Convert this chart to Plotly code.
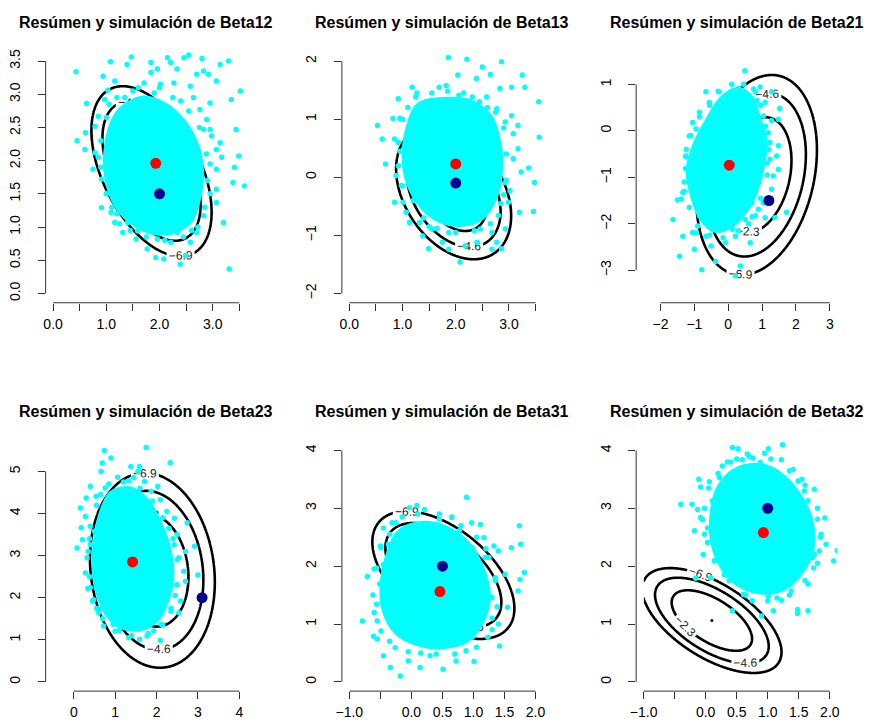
import numpy as np
import plotly.graph_objects as go

# ---------------- data ----------------
levels = [-6.9, -4.6, -2.3]

titles = ["Resúmen y simulación de Beta12", "Resúmen y simulación de Beta13",
          "Resúmen y simulación de Beta21", "Resúmen y simulación de Beta23",
          "Resúmen y simulación de Beta31", "Resúmen y simulación de Beta32"]

# ---- Beta12
b12_xlim = [0, 3.5]
b12_ylim = [0, 3.5]
b12_xticks = [0, 0.5, 1, 1.5, 2, 2.5, 3, 3.5]
b12_xlabels = ["0.0", "", "1.0", "", "2.0", "", "3.0", ""]
b12_yticks = [0, 0.5, 1, 1.5, 2, 2.5, 3, 3.5]
b12_ylabels = ["0.0", "0.5", "1.0", "1.5", "2.0", "2.5", "3.0", "3.5"]
b12_mu = [1.85, 1.84]
b12_sd = [0.304, 0.345]
b12_rho = -0.48
b12_est = [1.93, 1.96]
b12_true = [2.0, 1.5]
b12_core = [(1.3, 2.8), (1.7, 2.95), (2.1, 2.85), (2.45, 2.6), (2.7, 2.25), (2.8, 1.85),
            (2.75, 1.45), (2.6, 1.1), (2.35, 0.95), (2.0, 0.9), (1.65, 0.98), (1.35, 1.15),
            (1.1, 1.45), (0.98, 1.85), (1.0, 2.25), (1.12, 2.6)]
b12_edge = [(1.2, 2.95), (1.5, 3.05), (1.9, 3.02), (2.25, 2.95), (2.55, 2.75), (2.75, 2.5),
            (2.88, 2.1), (2.9, 1.7), (2.85, 1.3), (2.72, 1.0), (2.45, 0.85), (2.1, 0.8),
            (1.75, 0.85), (1.45, 0.95), (1.2, 1.2), (1.0, 1.5), (0.9, 1.9), (0.9, 2.3),
            (1.0, 2.65), (1.05, 2.85), (1.35, 2.95), (2.0, 3.1), (2.95, 1.95), (0.85, 2.05),
            (1.25, 1.05), (2.6, 0.95), (2.95, 1.5), (1.6, 3.1), (2.4, 2.9), (1.1, 1.3)]
b12_sim = [(0.43, 3.34), (0.63, 2.86), (0.45, 2.30), (0.61, 2.42), (0.60, 2.17), (0.75, 1.87),
           (0.91, 1.29), (1.09, 1.22), (1.31, 0.92), (1.56, 0.82), (1.77, 0.67), (1.93, 0.54),
           (2.08, 0.52), (2.39, 0.44), (2.49, 0.57), (1.08, 3.49), (1.47, 3.56), (1.39, 3.45),
           (1.84, 3.33), (2.15, 3.55), (2.46, 3.55), (2.55, 3.59), (2.80, 3.54), (2.83, 3.35),
           (2.92, 3.30), (3.14, 3.45), (3.30, 3.50), (3.52, 3.05), (3.35, 2.92), (3.07, 3.20),
           (2.95, 2.87), (2.89, 2.62), (2.98, 2.37), (3.07, 2.17), (3.44, 2.47), (3.41, 1.90),
           (3.49, 2.07), (3.17, 2.05), (3.07, 1.57), (3.38, 1.67), (3.60, 1.62), (3.20, 1.07),
           (3.07, 1.37), (3.31, 0.37), (2.70, 0.92), (2.83, 1.17), (2.21, 3.48), (2.02, 3.15),
           (2.27, 3.17), (2.58, 3.12), (1.71, 3.17), (1.16, 3.20), (0.97, 2.92), (0.85, 2.67),
           (0.79, 2.52), (0.94, 3.27), (1.03, 3.06), (1.84, 3.48), (1.96, 3.38), (2.33, 3.38),
           (2.70, 3.30), (2.64, 2.95), (2.76, 2.77), (2.83, 2.47), (1.16, 1.07), (1.40, 1.07),
           (1.59, 0.94), (1.96, 0.82), (2.21, 0.77), (2.58, 0.77), (2.33, 0.92), (0.91, 1.72),
           (0.79, 2.12), (3.07, 1.87), (3.14, 2.27), (2.95, 2.47)]

# ---- Beta13
b13_xlim = [0, 3.5]
b13_ylim = [-2, 2]
b13_xticks = [0, 0.5, 1, 1.5, 2, 2.5, 3, 3.5]
b13_xlabels = ["0.0", "", "1.0", "", "2.0", "", "3.0", ""]
b13_yticks = [-2, -1, 0, 1, 2]
b13_ylabels = ["\u22122", "\u22121", "0", "1", "2"]
b13_mu = [1.96, -0.26]
b13_sd = [0.291, 0.31]
b13_rho = -0.35
b13_est = [2.0, 0.23]
b13_true = [2.0, -0.1]
b13_core = [(1.3, 1.25), (1.8, 1.35), (2.3, 1.3), (2.65, 1.05), (2.82, 0.6), (2.85, 0.1),
            (2.75, -0.35), (2.5, -0.7), (2.1, -0.82), (1.7, -0.75), (1.35, -0.5), (1.1, -0.1),
            (1.02, 0.35), (1.08, 0.8)]
b13_edge = [(1.25, 1.38), (1.55, 1.45), (1.85, 1.48), (2.15, 1.45), (2.45, 1.3), (2.75, 1.12),
            (2.9, 0.85), (2.95, 0.4), (2.95, -0.05), (2.85, -0.45), (2.65, -0.8), (2.35, -0.92),
            (2.0, -0.95), (1.65, -0.88), (1.4, -0.7), (1.2, -0.4), (1.0, -0.15), (0.92, 0.2),
            (0.92, 0.6), (1.0, 1.0), (1.1, 1.2), (2.6, 1.2), (1.5, -0.85), (2.9, -0.3), (0.95, 0.45)]
b13_sim = [(1.86, 2.06), (2.21, 2.03), (2.50, 1.90), (2.86, 1.99), (2.04, 1.76), (2.39, 1.70),
           (2.65, 1.77), (3.25, 1.76), (3.30, 1.55), (3.56, 1.30), (3.57, 0.69), (3.05, 1.55),
           (2.83, 1.53), (1.69, 1.55), (1.82, 1.58), (1.18, 1.55), (1.27, 1.45), (0.92, 1.35),
           (0.82, 1.01), (0.95, 1.01), (0.53, 0.89), (0.62, 0.66), (0.68, 0.23), (0.85, 0.66),
           (0.88, 0.03), (0.85, -0.43), (1.01, -0.43), (1.13, -0.78), (1.38, -1.01), (1.49, -1.23),
           (1.75, -1.12), (1.87, -1.24), (2.08, -1.46), (2.18, -1.18), (2.40, -1.12), (2.68, -1.24),
           (2.86, -1.23), (2.77, -1.12), (2.68, -0.95), (2.93, -0.89), (2.99, -0.43), (3.20, -0.60),
           (3.46, -0.59), (3.48, -0.09), (3.37, 0.16), (3.23, 0.09), (3.08, 0.32), (3.17, 0.49),
           (3.08, 0.75), (2.93, 0.95), (3.05, 1.06), (3.17, 0.89), (2.77, 1.18), (2.58, 1.38),
           (2.31, 1.38), (2.06, 1.41), (1.44, 1.30), (3.02, -0.23), (2.93, -0.09), (2.80, -0.66),
           (2.46, -0.89), (1.87, -0.95), (1.56, -0.89), (1.32, -0.78), (1.07, -0.60), (0.98, -0.14)]

# ---- Beta21
b21_xlim = [-2.5, 3]
b21_ylim = [-3.5, 1.5]
b21_xticks = [-2, -1, 0, 1, 2, 3]
b21_xlabels = ["\u22122", "\u22121", "0", "1", "2", "3"]
b21_yticks = [-3, -2, -1, 0, 1]
b21_ylabels = ["\u22123", "\u22122", "\u22121", "0", "1"]
b21_mu = [0.84, -0.95]
b21_sd = [0.479, 0.579]
b21_rho = 0.25
b21_est = [0.03, -0.74]
b21_true = [1.2, -1.5]
b21_core = [(-0.2, 0.7), (0.25, 0.9), (0.65, 0.75), (0.9, 0.3), (1.1, -0.25), (1.0, -0.85),
            (0.8, -1.35), (0.5, -1.75), (0.1, -2.05), (-0.4, -2.15), (-0.8, -1.9), (-1.05, -1.45),
            (-1.2, -0.85), (-1.0, -0.3), (-0.65, 0.2)]
b21_edge = [(-0.3, 0.85), (0.1, 1.0), (0.45, 1.0), (0.75, 0.9), (0.95, 0.55), (1.1, 0.1),
            (1.2, -0.4), (1.15, -0.95), (0.95, -1.45), (0.7, -1.85), (0.3, -2.15), (-0.15, -2.3),
            (-0.55, -2.25), (-0.9, -2.05), (-1.15, -1.65), (-1.3, -1.1), (-1.25, -0.55),
            (-1.1, -0.1), (-0.85, 0.3), (-0.55, 0.55), (0.6, -2.0), (-1.3, -1.3), (1.15, -0.7),
            (0.85, 0.65), (-0.95, -2.2)]
b21_sim = [(0.49, 1.29), (-0.66, 0.84), (-0.27, 0.84), (0.12, 0.83), (0.31, 0.91), (0.80, 0.84),
           (0.94, 0.94), (1.28, 0.84), (1.52, 0.48), (1.48, 0.25), (1.09, 0.61), (-0.95, 0.04),
           (-1.15, -0.11), (-1.24, -0.40), (-1.26, -0.55), (-1.15, -0.97), (-1.26, -0.81),
           (-1.34, -1.33), (-1.39, -1.47), (-1.50, -1.49), (-1.63, -1.91), (-1.44, -2.70),
           (-1.34, -2.27), (-1.05, -2.19), (-1.0, -2.55), (-0.78, -2.99), (-0.51, -2.48),
           (-0.37, -2.81), (-0.08, -2.41), (0.21, -2.27), (0.65, -2.41), (0.36, -2.91),
           (0.21, -3.12), (0.12, -2.12), (0.50, -1.91), (0.80, -1.83), (1.09, -1.87), (1.38, -1.87),
           (1.72, -1.75), (1.04, -1.55), (1.28, -1.26), (1.48, -0.83), (1.33, -0.97), (1.23, -0.61),
           (1.43, -0.54), (1.48, -0.32), (1.23, -0.25), (1.18, -0.04), (1.28, 0.22), (1.04, 0.32),
           (-0.56, 0.61), (-0.85, 0.40), (-1.05, 0.18), (0.70, -1.55), (0.89, -1.69), (-0.85, -1.83),
           (-0.95, -1.55), (-0.66, -2.27), (-0.27, -2.12)]

# ---- Beta23
b23_xlim = [-0.5, 4]
b23_ylim = [0, 5.5]
b23_xticks = [0, 1, 2, 3, 4]
b23_xlabels = ["0", "1", "2", "3", "4"]
b23_yticks = [0, 1, 2, 3, 4, 5]
b23_ylabels = ["0", "1", "2", "3", "4", "5"]
b23_mu = [1.9, 2.65]
b23_sd = [0.406, 0.623]
b23_rho = -0.12
b23_est = [1.42, 2.85]
b23_true = [3.1, 2.0]
b23_core = [(0.9, 4.5), (1.35, 4.6), (1.75, 4.35), (2.05, 3.85), (2.3, 3.2), (2.38, 2.5),
            (2.25, 1.9), (2.0, 1.45), (1.6, 1.25), (1.15, 1.3), (0.8, 1.6), (0.55, 2.2),
            (0.48, 2.9), (0.55, 3.6), (0.7, 4.15)]
b23_edge = [(0.85, 4.7), (1.2, 4.75), (1.6, 4.6), (1.9, 4.3), (2.15, 3.9), (2.4, 3.4),
            (2.5, 2.9), (2.5, 2.3), (2.35, 1.75), (2.15, 1.35), (1.8, 1.15), (1.4, 1.1),
            (1.0, 1.2), (0.7, 1.5), (0.48, 1.95), (0.38, 2.5), (0.35, 3.1), (0.4, 3.7),
            (0.55, 4.2), (0.65, 4.45), (1.45, 4.85), (2.3, 3.65), (2.45, 2.05), (0.55, 1.75),
            (0.38, 3.4)]
b23_sim = [(1.75, 5.57), (0.74, 5.50), (0.90, 5.32), (0.69, 5.20), (0.66, 5.0), (1.38, 5.12),
           (1.59, 5.12), (2.33, 5.21), (1.06, 4.86), (0.76, 4.61), (0.54, 4.41), (0.40, 4.64),
           (0.30, 4.37), (0.16, 4.13), (0.28, 3.93), (0.18, 3.66), (0.08, 3.18), (0.21, 3.38),
           (0.32, 2.95), (0.28, 2.59), (0.34, 2.22), (0.45, 1.92), (0.40, 2.24), (0.52, 2.47),
           (0.60, 1.64), (0.72, 1.33), (1.10, 1.22), (1.33, 1.05), (1.59, 1.01), (1.77, 1.09),
           (2.09, 0.99), (2.11, 1.37), (2.35, 1.68), (2.54, 1.64), (2.58, 1.92), (2.49, 2.31),
           (2.70, 2.39), (2.66, 2.63), (2.54, 2.95), (2.70, 3.10), (3.0, 2.54), (2.92, 3.22),
           (2.74, 3.78), (2.50, 3.50), (2.43, 3.89), (2.25, 4.05), (2.09, 4.33), (1.87, 4.53),
           (2.03, 4.64), (1.71, 4.76), (1.55, 5.0), (1.33, 4.78), (1.15, 4.53), (0.90, 4.17),
           (0.50, 3.58), (0.40, 3.26), (0.68, 1.76), (0.95, 1.37), (1.93, 1.21), (2.35, 2.79),
           (2.43, 3.26)]

# ---- Beta31
b31_xlim = [-1, 2]
b31_ylim = [0, 4]
b31_xticks = [-1, -0.5, 0, 0.5, 1, 1.5, 2]
b31_xlabels = ["\u22121.0", "", "0.0", "0.5", "1.0", "1.5", "2.0"]
b31_yticks = [0, 1, 2, 3, 4]
b31_ylabels = ["0", "1", "2", "3", "4"]
b31_mu = [0.515, 1.845]
b31_sd = [0.308, 0.297]
b31_rho = -0.52
b31_est = [0.46, 1.56]
b31_true = [0.5, 2.0]
b31_core = [(-0.2, 2.6), (0.2, 2.75), (0.6, 2.65), (0.95, 2.35), (1.15, 1.95), (1.25, 1.5),
            (1.15, 1.05), (0.9, 0.72), (0.5, 0.6), (0.1, 0.65), (-0.25, 0.85), (-0.45, 1.25),
            (-0.48, 1.7), (-0.4, 2.15)]
b31_edge = [(-0.25, 2.75), (0.1, 2.9), (0.45, 2.9), (0.8, 2.7), (1.05, 2.5), (1.25, 2.15),
            (1.35, 1.75), (1.38, 1.3), (1.3, 0.9), (1.05, 0.6), (0.7, 0.48), (0.3, 0.45),
            (-0.05, 0.52), (-0.35, 0.7), (-0.55, 1.05), (-0.62, 1.5), (-0.6, 1.95), (-0.5, 2.35),
            (-0.35, 2.55), (0.65, 2.85), (1.3, 1.1), (-0.6, 1.2), (0.15, 0.5), (1.2, 2.3),
            (-0.15, 2.85)]
b31_sim = [(0.89, 3.19), (0.09, 3.05), (-0.03, 3.01), (0.21, 2.98), (0.45, 2.81), (0.65, 2.84),
           (0.97, 2.75), (1.11, 2.72), (1.74, 2.70), (1.76, 2.38), (1.61, 2.32), (1.40, 2.26),
           (1.33, 2.35), (1.17, 2.49), (1.51, 1.86), (1.75, 1.77), (1.82, 1.89), (1.72, 1.57),
           (1.55, 1.29), (1.40, 1.0), (1.42, 0.62), (1.23, 0.77), (1.01, 0.35), (0.88, 0.54),
           (0.72, 0.36), (0.51, 0.22), (0.40, 0.48), (0.14, 0.25), (-0.05, 0.36), (-0.18, 0.10),
           (-0.34, 0.25), (-0.45, 0.45), (-0.55, 0.74), (-0.61, 0.79), (-0.79, 1.05), (-0.71, 1.82),
           (-0.56, 1.97), (-0.49, 2.32), (-0.45, 2.66), (-0.31, 2.75), (-0.51, 1.69), (-0.56, 1.34),
           (-0.49, 0.88), (-0.26, 0.59), (-0.13, 0.79), (0.61, 0.65), (0.98, 0.77), (1.09, 1.0),
           (1.30, 1.46), (1.35, 1.80), (1.19, 2.15), (0.98, 2.32), (0.77, 2.61), (-0.37, 2.38),
           (-0.45, 2.03)]

# ---- Beta32
b32_xlim = [-1, 2]
b32_ylim = [0, 4]
b32_xticks = [-1, -0.5, 0, 0.5, 1, 1.5, 2]
b32_xlabels = ["\u22121.0", "", "0.0", "0.5", "1.0", "1.5", "2.0"]
b32_yticks = [0, 1, 2, 3, 4]
b32_ylabels = ["0", "1", "2", "3", "4"]
b32_mu = [0.1, 1.06]
b32_sd = [0.302, 0.244]
b32_rho = -0.6
b32_est = [0.93, 2.58]
b32_true = [1.0, 3.0]
b32_core = [(0.45, 3.65), (0.85, 3.75), (1.2, 3.6), (1.5, 3.25), (1.7, 2.8), (1.72, 2.3),
            (1.55, 1.9), (1.25, 1.6), (0.85, 1.55), (0.5, 1.7), (0.25, 2.0), (0.1, 2.45),
            (0.1, 2.95), (0.2, 3.35)]
b32_edge = [(0.35, 3.8), (0.7, 3.9), (1.05, 3.85), (1.35, 3.65), (1.6, 3.4), (1.8, 3.0),
            (1.85, 2.5), (1.8, 2.05), (1.6, 1.75), (1.35, 1.5), (1.0, 1.4), (0.65, 1.5),
            (0.38, 1.75), (0.15, 2.1), (-0.02, 2.55), (-0.02, 3.0), (0.05, 3.35), (0.2, 3.6),
            (0.95, 3.95), (1.75, 2.2), (0.3, 1.85), (-0.05, 2.8), (1.55, 3.5), (1.15, 1.45),
            (0.5, 3.85)]
b32_sim = [(0.43, 4.05), (0.52, 4.03), (1.01, 4.03), (1.24, 4.10), (0.67, 3.94), (0.59, 3.84),
           (0.76, 3.87), (0.88, 3.79), (1.22, 3.84), (1.41, 3.67), (1.49, 3.47), (1.59, 3.30),
           (1.75, 3.33), (1.65, 3.13), (1.80, 2.81), (1.92, 2.83), (1.86, 2.55), (1.94, 2.38),
           (2.12, 2.27), (2.06, 2.09), (1.83, 2.26), (1.74, 1.97), (1.65, 1.69), (1.65, 1.23),
           (1.48, 1.25), (1.48, 1.18), (1.09, 1.23), (1.22, 1.41), (1.38, 1.57), (1.01, 1.48),
           (0.90, 1.14), (0.75, 1.40), (0.61, 1.51), (0.43, 1.23), (0.53, 1.69), (0.32, 1.89),
           (0.08, 1.80), (-0.16, 1.79), (0.14, 2.09), (-0.04, 2.20), (0.03, 2.41), (-0.18, 2.61),
           (-0.08, 2.84), (-0.40, 3.07), (-0.22, 3.07), (-0.13, 2.98), (-0.11, 3.50), (-0.08, 3.37),
           (0.06, 3.46), (0.22, 3.53), (0.27, 3.73), (0.40, 3.80), (0.11, 3.13), (0.03, 2.66),
           (1.70, 2.72), (1.72, 2.15), (1.38, 1.80), (0.75, 1.63), (0.27, 2.03)]

panels = [
    (b12_xlim, b12_ylim, b12_xticks, b12_xlabels, b12_yticks, b12_ylabels, b12_mu, b12_sd, b12_rho, b12_est, b12_true, b12_core, b12_edge + b12_sim),
    (b13_xlim, b13_ylim, b13_xticks, b13_xlabels, b13_yticks, b13_ylabels, b13_mu, b13_sd, b13_rho, b13_est, b13_true, b13_core, b13_edge + b13_sim),
    (b21_xlim, b21_ylim, b21_xticks, b21_xlabels, b21_yticks, b21_ylabels, b21_mu, b21_sd, b21_rho, b21_est, b21_true, b21_core, b21_edge + b21_sim),
    (b23_xlim, b23_ylim, b23_xticks, b23_xlabels, b23_yticks, b23_ylabels, b23_mu, b23_sd, b23_rho, b23_est, b23_true, b23_core, b23_edge + b23_sim),
    (b31_xlim, b31_ylim, b31_xticks, b31_xlabels, b31_yticks, b31_ylabels, b31_mu, b31_sd, b31_rho, b31_est, b31_true, b31_core, b31_edge + b31_sim),
    (b32_xlim, b32_ylim, b32_xticks, b32_xlabels, b32_yticks, b32_ylabels, b32_mu, b32_sd, b32_rho, b32_est, b32_true, b32_core, b32_edge + b32_sim),
]

# ---------------- layout geometry ----------------
W, H = 869, 723
col_px = [(40, 243), (339, 542), (636, 839)]
row_px = [(49, 301), (440, 691)]
title_py = [20, 410]

FONT = "Liberation Sans, Arial, Helvetica, sans-serif"
CYAN = "#00FFFF"

fig = go.Figure()
layout = dict(width=W, height=H, margin=dict(l=0, r=0, t=0, b=0),
              paper_bgcolor="white", plot_bgcolor="white", showlegend=False,
              font=dict(family=FONT, color="black"))
shapes = []
annotations = []

for i, (xlim, ylim, xt, xl, yt, yl, mu, sd, rho, est, tru, core, sim) in enumerate(panels):
    r, c = divmod(i, 3)
    n = "" if i == 0 else str(i + 1)
    xa, ya = "x" + n, "y" + n
    xdom = [col_px[c][0] / W, col_px[c][1] / W]
    ydom = [1 - row_px[r][1] / H, 1 - row_px[r][0] / H]
    xpad = 0.04 * (xlim[1] - xlim[0])
    ypad = 0.04 * (ylim[1] - ylim[0])

    # likelihood contours
    gx = np.linspace(xlim[0], xlim[1], 301)
    gy = np.linspace(ylim[0], ylim[1], 301)
    X, Y = np.meshgrid(gx, gy)
    dx = (X - mu[0]) / sd[0]
    dy = (Y - mu[1]) / sd[1]
    Z = -0.5 * (dx ** 2 - 2 * rho * dx * dy + dy ** 2) / (1 - rho ** 2)
    fig.add_trace(go.Contour(
        x=gx, y=gy, z=Z, xaxis=xa, yaxis=ya, autocontour=False,
        contours=dict(start=levels[0], end=levels[-1] + 0.01, size=levels[1] - levels[0],
                      coloring="lines", showlabels=True, labelformat=".1f",
                      labelfont=dict(family=FONT, size=12, color="#222222")),
        colorscale=[[0, "black"], [1, "black"]], showscale=False,
        line=dict(width=2.6, smoothing=1.0), hoverinfo="skip"))
    # maximum of the surface
    fig.add_trace(go.Scatter(x=[mu[0]], y=[mu[1]], xaxis=xa, yaxis=ya, mode="markers",
                             marker=dict(color="black", size=3), hoverinfo="skip"))
    # dense core of the simulated cloud
    fig.add_trace(go.Scatter(x=[p[0] for p in core] + [core[0][0]],
                             y=[p[1] for p in core] + [core[0][1]],
                             xaxis=xa, yaxis=ya, mode="lines", fill="toself",
                             fillcolor=CYAN, line=dict(color=CYAN, width=4, shape="spline"),
                             hoverinfo="skip"))
    # simulated points
    fig.add_trace(go.Scatter(x=[p[0] for p in sim], y=[p[1] for p in sim],
                             xaxis=xa, yaxis=ya, mode="markers",
                             marker=dict(color=CYAN, size=5.5), hoverinfo="skip"))
    # estimate (red) and true value (dark blue)
    fig.add_trace(go.Scatter(x=[est[0]], y=[est[1]], xaxis=xa, yaxis=ya, mode="markers",
                             marker=dict(color="#FF0000", size=11)))
    fig.add_trace(go.Scatter(x=[tru[0]], y=[tru[1]], xaxis=xa, yaxis=ya, mode="markers",
                             marker=dict(color="#00008B", size=11)))

    common = dict(showgrid=False, zeroline=False, showline=False, ticks="outside",
                  ticklen=7, tickwidth=1, tickcolor="#333333",
                  tickfont=dict(family=FONT, size=14, color="black"))
    layout["xaxis" + n] = dict(domain=xdom, anchor=ya, range=[xlim[0] - xpad, xlim[1] + xpad],
                               tickmode="array", tickvals=xt, ticktext=xl,
                               ticklabelstandoff=1, **common)
    layout["yaxis" + n] = dict(domain=ydom, anchor=xa, range=[ylim[0] - ypad, ylim[1] + ypad],
                               tickmode="array", tickvals=yt, ticktext=yl, tickangle=-90,
                               ticklabelstandoff=12, **common)
    # R-style axis lines running from first to last tick
    shapes.append(dict(type="line", xref=xa, yref=ya + " domain", x0=xt[0], x1=xt[-1],
                       y0=0, y1=0, line=dict(color="#333333", width=1)))
    shapes.append(dict(type="line", xref=xa + " domain", yref=ya, x0=0, x1=0,
                       y0=yt[0], y1=yt[-1], line=dict(color="#333333", width=1)))
    annotations.append(dict(text="<b>" + titles[i] + "</b>", xref="paper", yref="paper",
                            x=(xdom[0] + xdom[1]) / 2, y=1 - title_py[r] / H,
                            xanchor="center", yanchor="middle", showarrow=False,
                            font=dict(family=FONT, size=16, color="black")))

layout["shapes"] = shapes
layout["annotations"] = annotations
fig.update_layout(**layout)
fig.write_html("out.html", config={"displayModeBar": False},
               post_script="document.body.style.margin='0px';")
